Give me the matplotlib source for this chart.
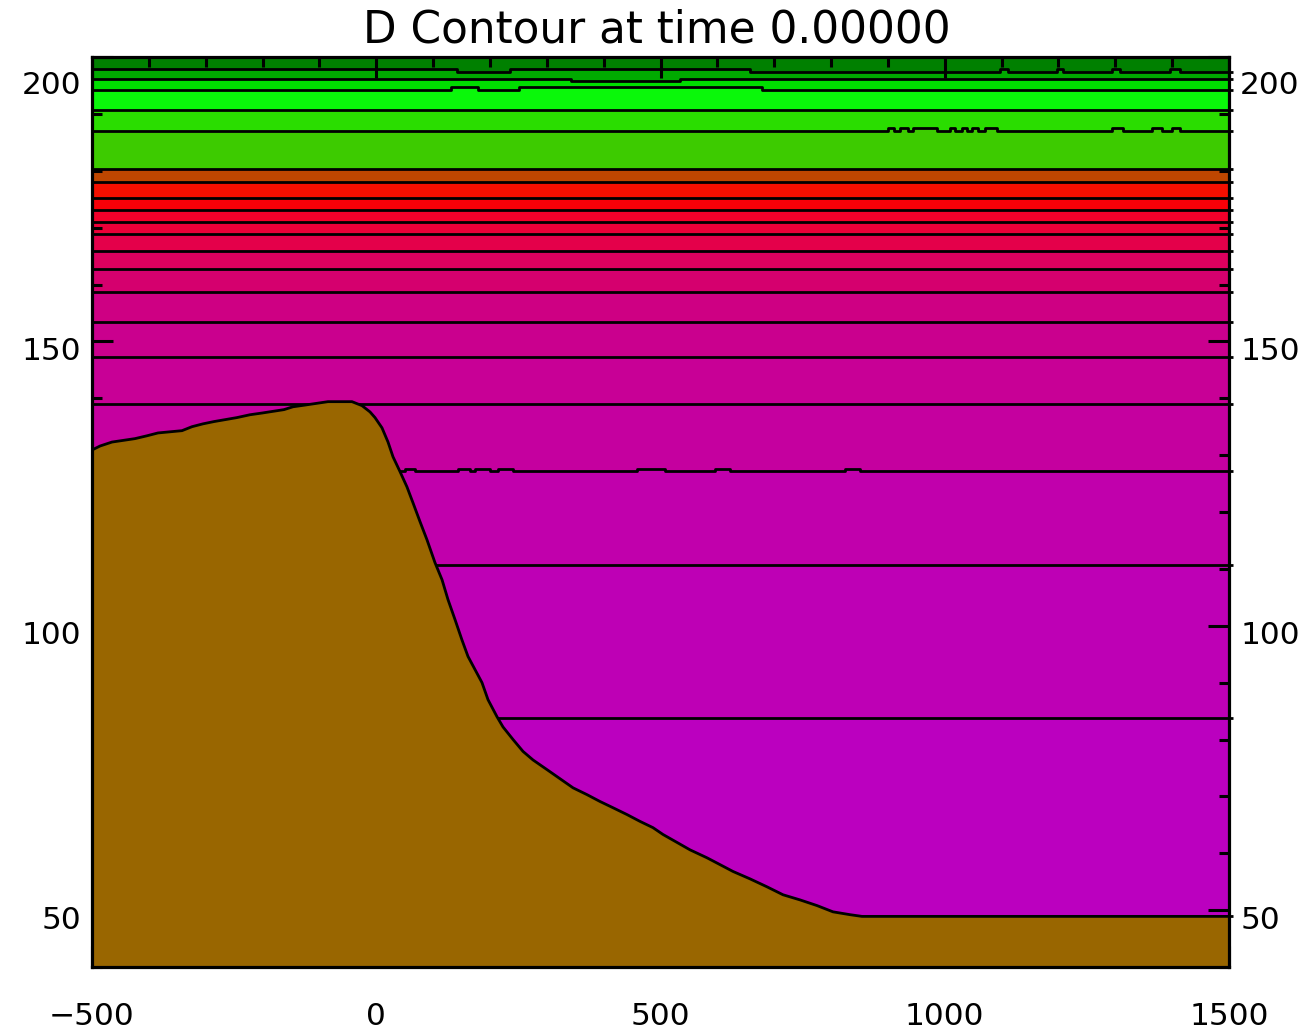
import matplotlib
matplotlib.use("Agg")
import matplotlib.pyplot as plt
import matplotlib.transforms as mtransforms
from matplotlib.ticker import MultipleLocator, FixedLocator

# ---------------- data ----------------
title = "D Contour at time 0.00000"
x_range = [-500, 1500]
y_range = [40, 200]
x_ticks = [-500, 0, 500, 1000, 1500]
y_ticks = [50, 100, 150, 200]

# contour lines, top to bottom: base level
contour_levels = [197.9, 196.1, 194.2, 190.7, 187.0, 180.3, 178.0, 175.2, 173.1,
                  171.0, 168.9, 165.9, 162.7, 158.7, 153.4, 147.3, 139.0, 127.2,
                  110.7, 83.8, 48.9]
# local deviations of some contour lines: (x0, x1, level)
line_A_segments = [(142, 235, 197.4), (657, 1097, 197.4), (1111, 1197, 197.4),
                   (1208, 1294, 197.4), (1308, 1396, 197.4), (1414, 1507, 197.4)]
line_B_segments = [(343, 534, 195.75)]
line_C_segments = [(131, 179, 194.8), (251, 678, 194.7)]
line_E_segments = [(900, 911, 187.5), (921, 935, 187.5), (944, 986, 187.5),
                   (1009, 1018, 187.5), (1030, 1039, 187.5), (1048, 1058, 187.5),
                   (1071, 1092, 187.5), (1294, 1313, 187.5), (1364, 1382, 187.5),
                   (1400, 1414, 187.5)]
line_127_segments = [(51, 68, 127.6), (144, 165, 127.6), (174, 200, 127.6),
                     (214, 241, 127.6), (459, 508, 127.6), (596, 622, 127.6),
                     (825, 851, 127.6)]
contour_segments = {0: line_A_segments, 1: line_B_segments, 2: line_C_segments,
                    4: line_E_segments, 17: line_127_segments}

# fill colours: above first line, then below each line
band_colors = ["#008000", "#00AA00", "#00DD00", "#0AF80A", "#2ADD00", "#3DCB00",
               "#BE4600", "#F50F00", "#F80008", "#F2002A", "#EC0038", "#E4004A",
               "#DC005E", "#D5006E", "#CE0083", "#CA008E", "#C80096", "#C5009F",
               "#C100AC", "#BE00B5", "#BB00BF", "#BB00BF"]

# bathymetry (top of the brown area)
topo_x = [-500, -485.9, -464.8, -424.4, -403.3, -383.9, -341.7, -324.1, -304.8,
          -285.4, -245.0, -222.1, -201.0, -162.3, -146.5, -125.4, -84.9, -42.7,
          -25.1, -11.0, -2.2, 10.1, 20.7, 29.5, 41.8, 54.1, 64.7, 77.0, 89.3,
          103.3, 115.7, 126.2, 138.5, 150.8, 161.4, 173.7, 186.0, 196.6, 212.4,
          223.0, 240.6, 258.2, 275.8, 300.4, 323.3, 346.2, 370.8, 393.6, 416.5,
          441.1, 464.0, 486.8, 504.4, 529.1, 551.9, 581.8, 604.7, 627.5, 657.4,
          687.3, 715.5, 745.4, 775.3, 803.4, 833.3, 854.4, 1500]
topo_y = [130.9, 131.6, 132.3, 132.9, 133.4, 133.9, 134.3, 135.0, 135.5,
          135.9, 136.6, 137.1, 137.4, 138.0, 138.5, 138.8, 139.4, 139.4,
          138.7, 137.6, 136.6, 134.8, 132.3, 129.7, 127.1, 124.4, 121.6, 118.3, 115.1,
          111.1, 108.1, 104.6, 101.1, 97.5, 94.6, 92.3, 90.0, 87.0, 84.0,
          82.2, 80.0, 77.9, 76.4, 74.7, 73.1, 71.5, 70.3, 69.1, 68.0,
          66.8, 65.6, 64.5, 63.3, 61.9, 60.6, 59.2, 58.0, 56.8, 55.5,
          54.1, 52.7, 51.8, 50.8, 49.7, 49.2, 48.9, 48.9]
topo_color = "#996600"
line_x_end = 1507  # contour lines stick out a little past the right axis


def build_line(base, segments):
    xs, ys = [x_range[0]], [base]
    for x0, x1, lvl in sorted(segments):
        xs += [x0, x0, x1]
        ys += [base, lvl, lvl]
        if x1 < line_x_end:
            xs.append(x1)
            ys.append(base)
    if xs[-1] < line_x_end:
        xs.append(line_x_end)
        ys.append(ys[-1])
    return xs, ys


# ---------------- figure ----------------
fig = plt.figure(figsize=(13.06, 10.31), dpi=100)
ax = fig.add_axes([92 / 1306, 1 - 967 / 1031, (1229 - 92) / 1306, (967 - 57) / 1031])
ax.set_xlim(*x_range)
ax.set_ylim(*y_range)

ax.axhspan(y_range[0], y_range[1], color=band_colors[0], lw=0, zorder=0)
lines = []
for i, lvl in enumerate(contour_levels):
    xs, ys = build_line(lvl, contour_segments.get(i, []))
    lines.append((xs, ys))
    ax.fill_between(xs, ys, y_range[0], color=band_colors[i + 1], lw=0, zorder=1)
for xs, ys in lines:
    ax.plot(xs, ys, color="black", lw=2.0, zorder=2, clip_on=False,
            solid_capstyle="butt")

ax.fill_between(topo_x, topo_y, y_range[0], color=topo_color, lw=0, zorder=3)
ax.plot(topo_x, topo_y, color="black", lw=2.0, zorder=4)

# axes / ticks
for sp in ax.spines.values():
    sp.set_linewidth(2.3)
    sp.set_zorder(6)
ax.xaxis.set_major_locator(FixedLocator(x_ticks))
ax.yaxis.set_major_locator(FixedLocator(y_ticks))
ax.xaxis.set_minor_locator(MultipleLocator(100))
ax.yaxis.set_minor_locator(MultipleLocator(10))
ax.tick_params(which="both", direction="in", top=True, right=True,
               labelright=True, colors="black", zorder=6)
ax.tick_params(which="major", length=15, width=2.2, labelsize=22.5)
ax.tick_params(which="minor", length=7.5, width=2.2)
ax.tick_params(axis="x", which="major", pad=25)
ax.tick_params(axis="y", which="major", pad=8)
ax.set_xticklabels([str(v).replace("-", "\u2212") for v in x_ticks])
ax.set_yticklabels([str(v) for v in y_ticks])

for t, v in zip(ax.yaxis.get_major_ticks(), y_ticks):
    dy = -26 if v == 200 else -7
    off = mtransforms.ScaledTranslation(0, dy / 100, fig.dpi_scale_trans)
    t.label1.set_transform(t.label1.get_transform() + off)
    t.label2.set_transform(t.label2.get_transform() + off)

fig.text(656.5 / 1306, 1 - 30 / 1031, title, ha="center", va="center",
         fontsize=31.5, color="black")

fig.savefig("out.png", dpi=100, facecolor="white")
